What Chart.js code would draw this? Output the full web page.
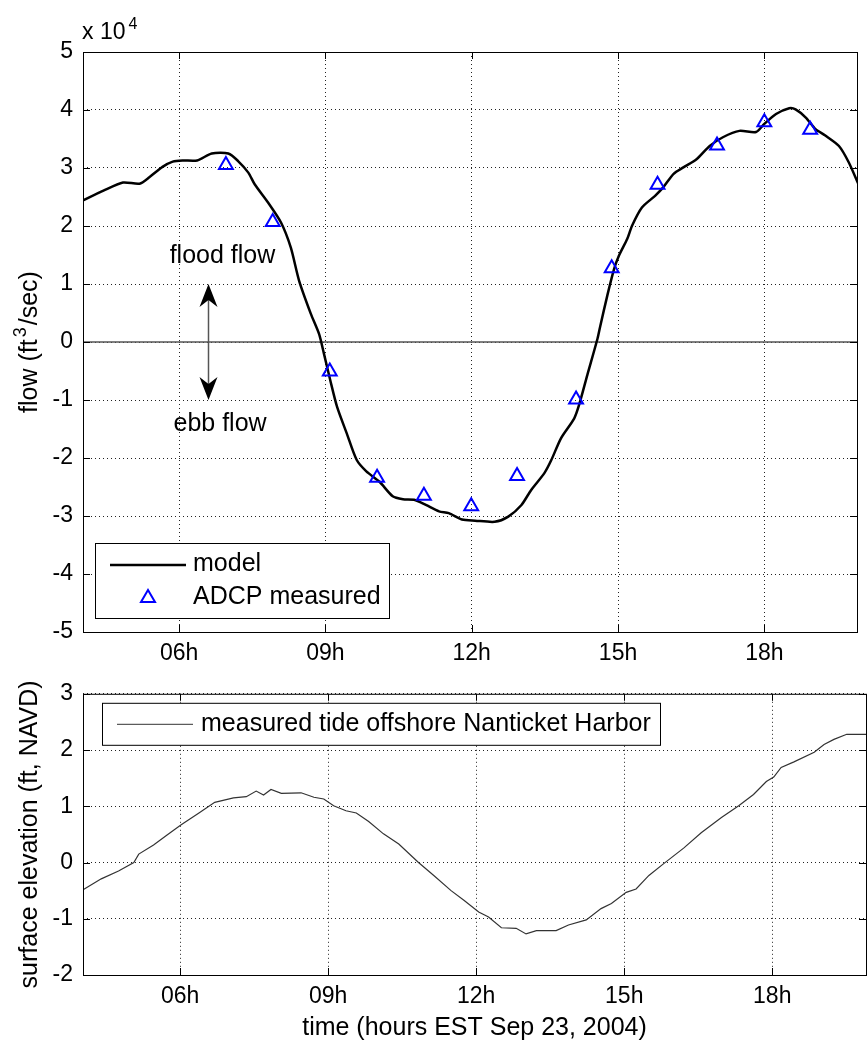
<!DOCTYPE html>
<html>
<head>
<meta charset="utf-8">
<script src="https://cdn.jsdelivr.net/npm/chart.js@4.4.1/dist/chart.umd.min.js"></script>
<style>
  html, body { margin: 0; padding: 0; background: #fff; }
  #wrap { position: relative; width: 867px; height: 1040px; overflow: hidden; }
  .panel { position: absolute; left: 0; }
  #flow-panel { top: 0; }
  #tide-panel { top: 670px; }
</style>
</head>
<body>
<div id="wrap">
  <div class="panel" id="flow-panel"><canvas id="flow-chart" width="867" height="670"></canvas></div>
  <div class="panel" id="tide-panel"><canvas id="tide-chart" width="867" height="370"></canvas></div>
</div>
<script>
// time axis, hours EST on Sep 23, 2004
const hourMin = 4.03;
const hourMax = 19.9;
const hourTicks = [6, 9, 12, 15, 18];
const hourLabels = ['06h', '09h', '12h', '15h', '18h'];

// modelled flow through the harbor entrance (ft^3/sec)
const modelHours = [4.03, 4.45, 4.85, 5.19, 5.39, 5.66, 5.87, 6.07, 6.37, 6.67, 7.01, 7.21, 7.42, 7.55, 7.82,
  8.09, 8.29, 8.46, 8.70, 8.87, 8.97, 9.10, 9.24, 9.44, 9.64, 9.84, 10.11, 10.38, 10.59, 10.82, 11.06,
  11.33, 11.53, 11.80, 12.07, 12.47, 12.75, 13.02, 13.22, 13.49, 13.63, 13.83, 14.10, 14.20, 14.37,
  14.58, 14.64, 14.78, 14.92, 15.02, 15.19, 15.29, 15.49, 15.76, 15.93, 16.14, 16.34, 16.61, 16.88,
  17.15, 17.49, 17.83, 18.00, 18.24, 18.51, 18.64, 18.85, 19.05, 19.25, 19.53, 19.73, 19.93];
const modelFlow = [24400, 26100, 27500, 27300, 28400, 30200, 31100, 31300, 31300, 32500, 32500, 31200,
  29200, 27200, 24100, 20600, 16300, 10600, 4900, 1400, -2000, -6600, -11200, -15800, -20300, -22300,
  -24100, -26600, -27100, -27200, -28100, -29200, -29500, -30600, -30800, -31000, -30100, -28100,
  -25500, -22600, -20400, -16600, -13200, -10900, -5700, 600, 2900, 8000, 12600, 14900, 17800, 20100,
  23200, 25200, 26700, 29000, 30100, 31500, 33800, 35300, 36400, 36200, 37600, 39300, 40300, 40100,
  38700, 36700, 35600, 33800, 31000, 27200];

// ADCP transect measurements (ft^3/sec)
const adcpHours = [6.96, 7.92, 9.09, 10.06, 11.02, 11.99, 12.93, 14.14, 14.87, 15.81, 17.03, 18.00, 18.94];
const adcpFlow = [30500, 20700, -5100, -23400, -26500, -28300, -23100, -9900, 12700, 27100, 33900, 37900, 36600];

// tide gauge offshore Nantucket Harbor (ft, NAVD)
const tideHours = [4.04, 4.40, 4.75, 5.06, 5.16, 5.46, 5.72, 6.02, 6.38, 6.70, 7.08, 7.34, 7.54, 7.69, 7.84,
  8.05, 8.45, 8.71, 8.91, 9.11, 9.36, 9.57, 9.82, 10.12, 10.43, 10.83, 11.14, 11.49, 11.75, 12.05, 12.25,
  12.51, 12.81, 13.01, 13.22, 13.62, 13.87, 14.23, 14.53, 14.74, 15.04, 15.24, 15.50, 15.80, 16.21,
  16.56, 16.97, 17.32, 17.62, 17.88, 18.03, 18.18, 18.44, 18.85, 19.05, 19.25, 19.51, 19.95];
const tideElev = [-0.48, -0.29, -0.15, 0.00, 0.15, 0.31, 0.48, 0.67, 0.88, 1.07, 1.15, 1.17, 1.27, 1.20,
  1.30, 1.23, 1.24, 1.16, 1.13, 1.01, 0.92, 0.88, 0.73, 0.51, 0.33, 0.00, -0.23, -0.50, -0.67, -0.88,
  -0.97, -1.16, -1.17, -1.27, -1.21, -1.21, -1.11, -1.02, -0.82, -0.73, -0.53, -0.47, -0.23, -0.02,
  0.26, 0.53, 0.80, 1.01, 1.21, 1.44, 1.52, 1.69, 1.79, 1.96, 2.10, 2.19, 2.28, 2.28];

// flood / ebb direction marker
const arrowHour = 6.59;
const arrowTop = 10000;
const arrowBottom = -10000;
const floodLabel = { hour: 6.89, flow: 14750, text: 'flood flow' };
const ebbLabel = { hour: 6.84, flow: -14100, text: 'ebb flow' };

const FONT = '"Liberation Sans", Arial, Helvetica, sans-serif';
const tickFont = { family: FONT, size: 23 };
const TEXT = '25px ' + FONT;

const pairs = (xs, ys) => xs.map((x, i) => ({ x: x, y: ys[i] }));

function timeAxis(height) {
  return {
    type: 'linear',
    min: hourMin,
    max: hourMax,
    afterBuildTicks: s => { s.ticks = hourTicks.map(v => ({ value: v })); },
    afterFit: s => { s.height = height; },
    ticks: {
      callback: v => hourLabels[hourTicks.indexOf(v)],
      color: '#000', font: tickFont, padding: 8, maxRotation: 0, autoSkip: false
    },
    grid: { color: '#222', lineWidth: 1, drawTicks: false },
    border: { display: false, dash: [1, 3] }
  };
}

function valueAxis(min, max, step, fmt) {
  return {
    min: min, max: max,
    afterFit: s => { s.width = 83; },
    ticks: { stepSize: step, callback: fmt, color: '#000', font: tickFont, padding: 10 },
    grid: { color: '#222', lineWidth: 1, drawTicks: false },
    border: { display: false, dash: [1, 3] }
  };
}

// box round the axes plus the short inward tick marks
const axesBox = {
  id: 'axesBox',
  afterDraw(chart) {
    const { ctx, chartArea: a, scales } = chart;
    ctx.save();
    ctx.strokeStyle = '#000';
    ctx.lineWidth = 1;
    ctx.strokeRect(a.left + 0.5, a.top + 0.5, a.right - a.left, a.bottom - a.top);
    ctx.beginPath();
    scales.x.ticks.forEach(t => {
      const x = Math.round(scales.x.getPixelForValue(t.value)) + 0.5;
      ctx.moveTo(x, a.top); ctx.lineTo(x, a.top + 7);
      ctx.moveTo(x, a.bottom); ctx.lineTo(x, a.bottom - 7);
    });
    scales.y.ticks.forEach(t => {
      const y = Math.round(scales.y.getPixelForValue(t.value)) + 0.5;
      ctx.moveTo(a.left, y); ctx.lineTo(a.left + 7, y);
      ctx.moveTo(a.right, y); ctx.lineTo(a.right - 7, y);
    });
    ctx.stroke();
    ctx.restore();
  }
};

function arrowHead(ctx, x, tipY, dir) {
  // dir = -1 points up, +1 points down
  ctx.beginPath();
  ctx.moveTo(x, tipY);
  ctx.lineTo(x + 9, tipY - dir * 23);
  ctx.lineTo(x, tipY - dir * 16);
  ctx.lineTo(x - 9, tipY - dir * 23);
  ctx.closePath();
  ctx.fill();
}

const flowDecor = {
  id: 'flowDecor',
  afterDraw(chart) {
    const { ctx, chartArea: a, scales: { x: xs, y: ys } } = chart;
    ctx.save();

    // scale factor above the axis
    ctx.fillStyle = '#000';
    ctx.textBaseline = 'middle';
    ctx.textAlign = 'left';
    ctx.font = '23px ' + FONT;
    ctx.fillText('x 10', a.left - 1, a.top - 19);
    const w10 = ctx.measureText('x 10').width;
    ctx.font = '16px ' + FONT;
    ctx.fillText('4', a.left + w10 + 2, a.top - 27);

    // y-axis title with superscript
    ctx.save();
    ctx.translate(30, (a.top + a.bottom) / 2);
    ctx.rotate(-Math.PI / 2);
    const small = '18px ' + FONT;
    ctx.font = TEXT;
    const w1 = ctx.measureText('flow (ft').width;
    const w3 = ctx.measureText('/sec)').width;
    ctx.font = small;
    const w2 = ctx.measureText('3').width + 4;
    let px = -(w1 + w2 + w3) / 2;
    ctx.font = TEXT;
    ctx.fillText('flow (ft', px, 0);
    px += w1;
    ctx.font = small;
    ctx.fillText('3', px + 2, -9);
    px += w2;
    ctx.font = TEXT;
    ctx.fillText('/sec)', px, 0);
    ctx.restore();

    // flood / ebb arrow
    const ax = Math.round(xs.getPixelForValue(arrowHour)) + 0.5;
    const yTop = ys.getPixelForValue(arrowTop);
    const yBot = ys.getPixelForValue(arrowBottom);
    ctx.strokeStyle = '#555';
    ctx.lineWidth = 1.5;
    ctx.beginPath();
    ctx.moveTo(ax, yTop + 14);
    ctx.lineTo(ax, yBot - 14);
    ctx.stroke();
    ctx.fillStyle = '#000';
    arrowHead(ctx, ax, yTop, -1);
    arrowHead(ctx, ax, yBot, 1);

    ctx.font = TEXT;
    ctx.textAlign = 'center';
    [floodLabel, ebbLabel].forEach(l => {
      ctx.fillText(l.text, xs.getPixelForValue(l.hour), ys.getPixelForValue(l.flow));
    });

    // legend
    const lx = a.left + 12, ly = a.bottom - 89;
    ctx.fillStyle = '#fff';
    ctx.fillRect(lx, ly, 294, 75);
    ctx.strokeStyle = '#000';
    ctx.lineWidth = 1;
    ctx.strokeRect(lx + 0.5, ly + 0.5, 294, 75);
    ctx.lineWidth = 2.5;
    ctx.beginPath();
    ctx.moveTo(lx + 15, ly + 22);
    ctx.lineTo(lx + 91, ly + 22);
    ctx.stroke();
    ctx.strokeStyle = '#0000ff';
    ctx.lineWidth = 2;
    const tx = lx + 53, ty = ly + 55;
    ctx.beginPath();
    ctx.moveTo(tx, ty - 8);
    ctx.lineTo(tx + 7, ty + 4);
    ctx.lineTo(tx - 7, ty + 4);
    ctx.closePath();
    ctx.stroke();
    ctx.fillStyle = '#000';
    ctx.textAlign = 'left';
    ctx.font = TEXT;
    ctx.fillText('model', lx + 98, ly + 21);
    ctx.fillText('ADCP measured', lx + 98, ly + 54);
    ctx.restore();
  }
};

const tideDecor = {
  id: 'tideDecor',
  afterDraw(chart) {
    const { ctx, chartArea: a } = chart;
    ctx.save();
    ctx.fillStyle = '#000';
    ctx.textBaseline = 'middle';
    ctx.font = TEXT;

    ctx.save();
    ctx.translate(30, (a.top + a.bottom) / 2);
    ctx.rotate(-Math.PI / 2);
    ctx.textAlign = 'center';
    ctx.fillText('surface elevation (ft, NAVD)', 0, 0);
    ctx.restore();

    ctx.textAlign = 'center';
    ctx.fillText('time (hours EST Sep 23, 2004)', (a.left + a.right) / 2, a.bottom + 53);

    // legend
    const lx = a.left + 19, ly = a.top + 9;
    ctx.fillStyle = '#fff';
    ctx.fillRect(lx, ly, 558, 42);
    ctx.strokeStyle = '#000';
    ctx.lineWidth = 1;
    ctx.strokeRect(lx + 0.5, ly + 0.5, 558, 42);
    ctx.strokeStyle = '#333';
    ctx.beginPath();
    ctx.moveTo(lx + 15, ly + 21.5);
    ctx.lineTo(lx + 91, ly + 21.5);
    ctx.stroke();
    ctx.fillStyle = '#000';
    ctx.textAlign = 'left';
    ctx.fillText('measured tide offshore Nanticket Harbor', lx + 99, ly + 21);
    ctx.restore();
  }
};

new Chart(document.getElementById('flow-chart'), {
  type: 'line',
  data: {
    datasets: [
      {
        label: 'zero',
        data: pairs([hourMin, hourMax], [0, 0]),
        borderColor: '#555', borderWidth: 1.5, pointRadius: 0, order: 3
      },
      {
        label: 'model',
        data: pairs(modelHours, modelFlow),
        borderColor: '#000', borderWidth: 2.5, pointRadius: 0, tension: 0.25, order: 2
      },
      {
        label: 'ADCP measured',
        data: pairs(adcpHours, adcpFlow),
        showLine: false, pointStyle: 'triangle', pointRadius: 8,
        borderColor: '#0000ff', backgroundColor: 'rgba(0,0,0,0)', borderWidth: 2, order: 1
      }
    ]
  },
  options: {
    responsive: false,
    animation: false,
    layout: { padding: { top: 52, right: 1, bottom: 0, left: 0 } },
    plugins: { legend: { display: false }, tooltip: { enabled: false } },
    scales: {
      x: timeAxis(38),
      y: valueAxis(-50000, 50000, 10000, v => v / 10000)
    }
  },
  plugins: [axesBox, flowDecor]
});

new Chart(document.getElementById('tide-chart'), {
  type: 'line',
  data: {
    datasets: [
      {
        label: 'measured tide offshore Nanticket Harbor',
        data: pairs(tideHours, tideElev),
        borderColor: '#333', borderWidth: 1.2, pointRadius: 0, tension: 0
      }
    ]
  },
  options: {
    responsive: false,
    animation: false,
    layout: { padding: { top: 22, right: 1, bottom: 0, left: 0 } },
    plugins: { legend: { display: false }, tooltip: { enabled: false } },
    scales: {
      x: timeAxis(65),
      y: valueAxis(-2, 3, 1, v => v)
    }
  },
  plugins: [axesBox, tideDecor]
});
</script>
</body>
</html>
